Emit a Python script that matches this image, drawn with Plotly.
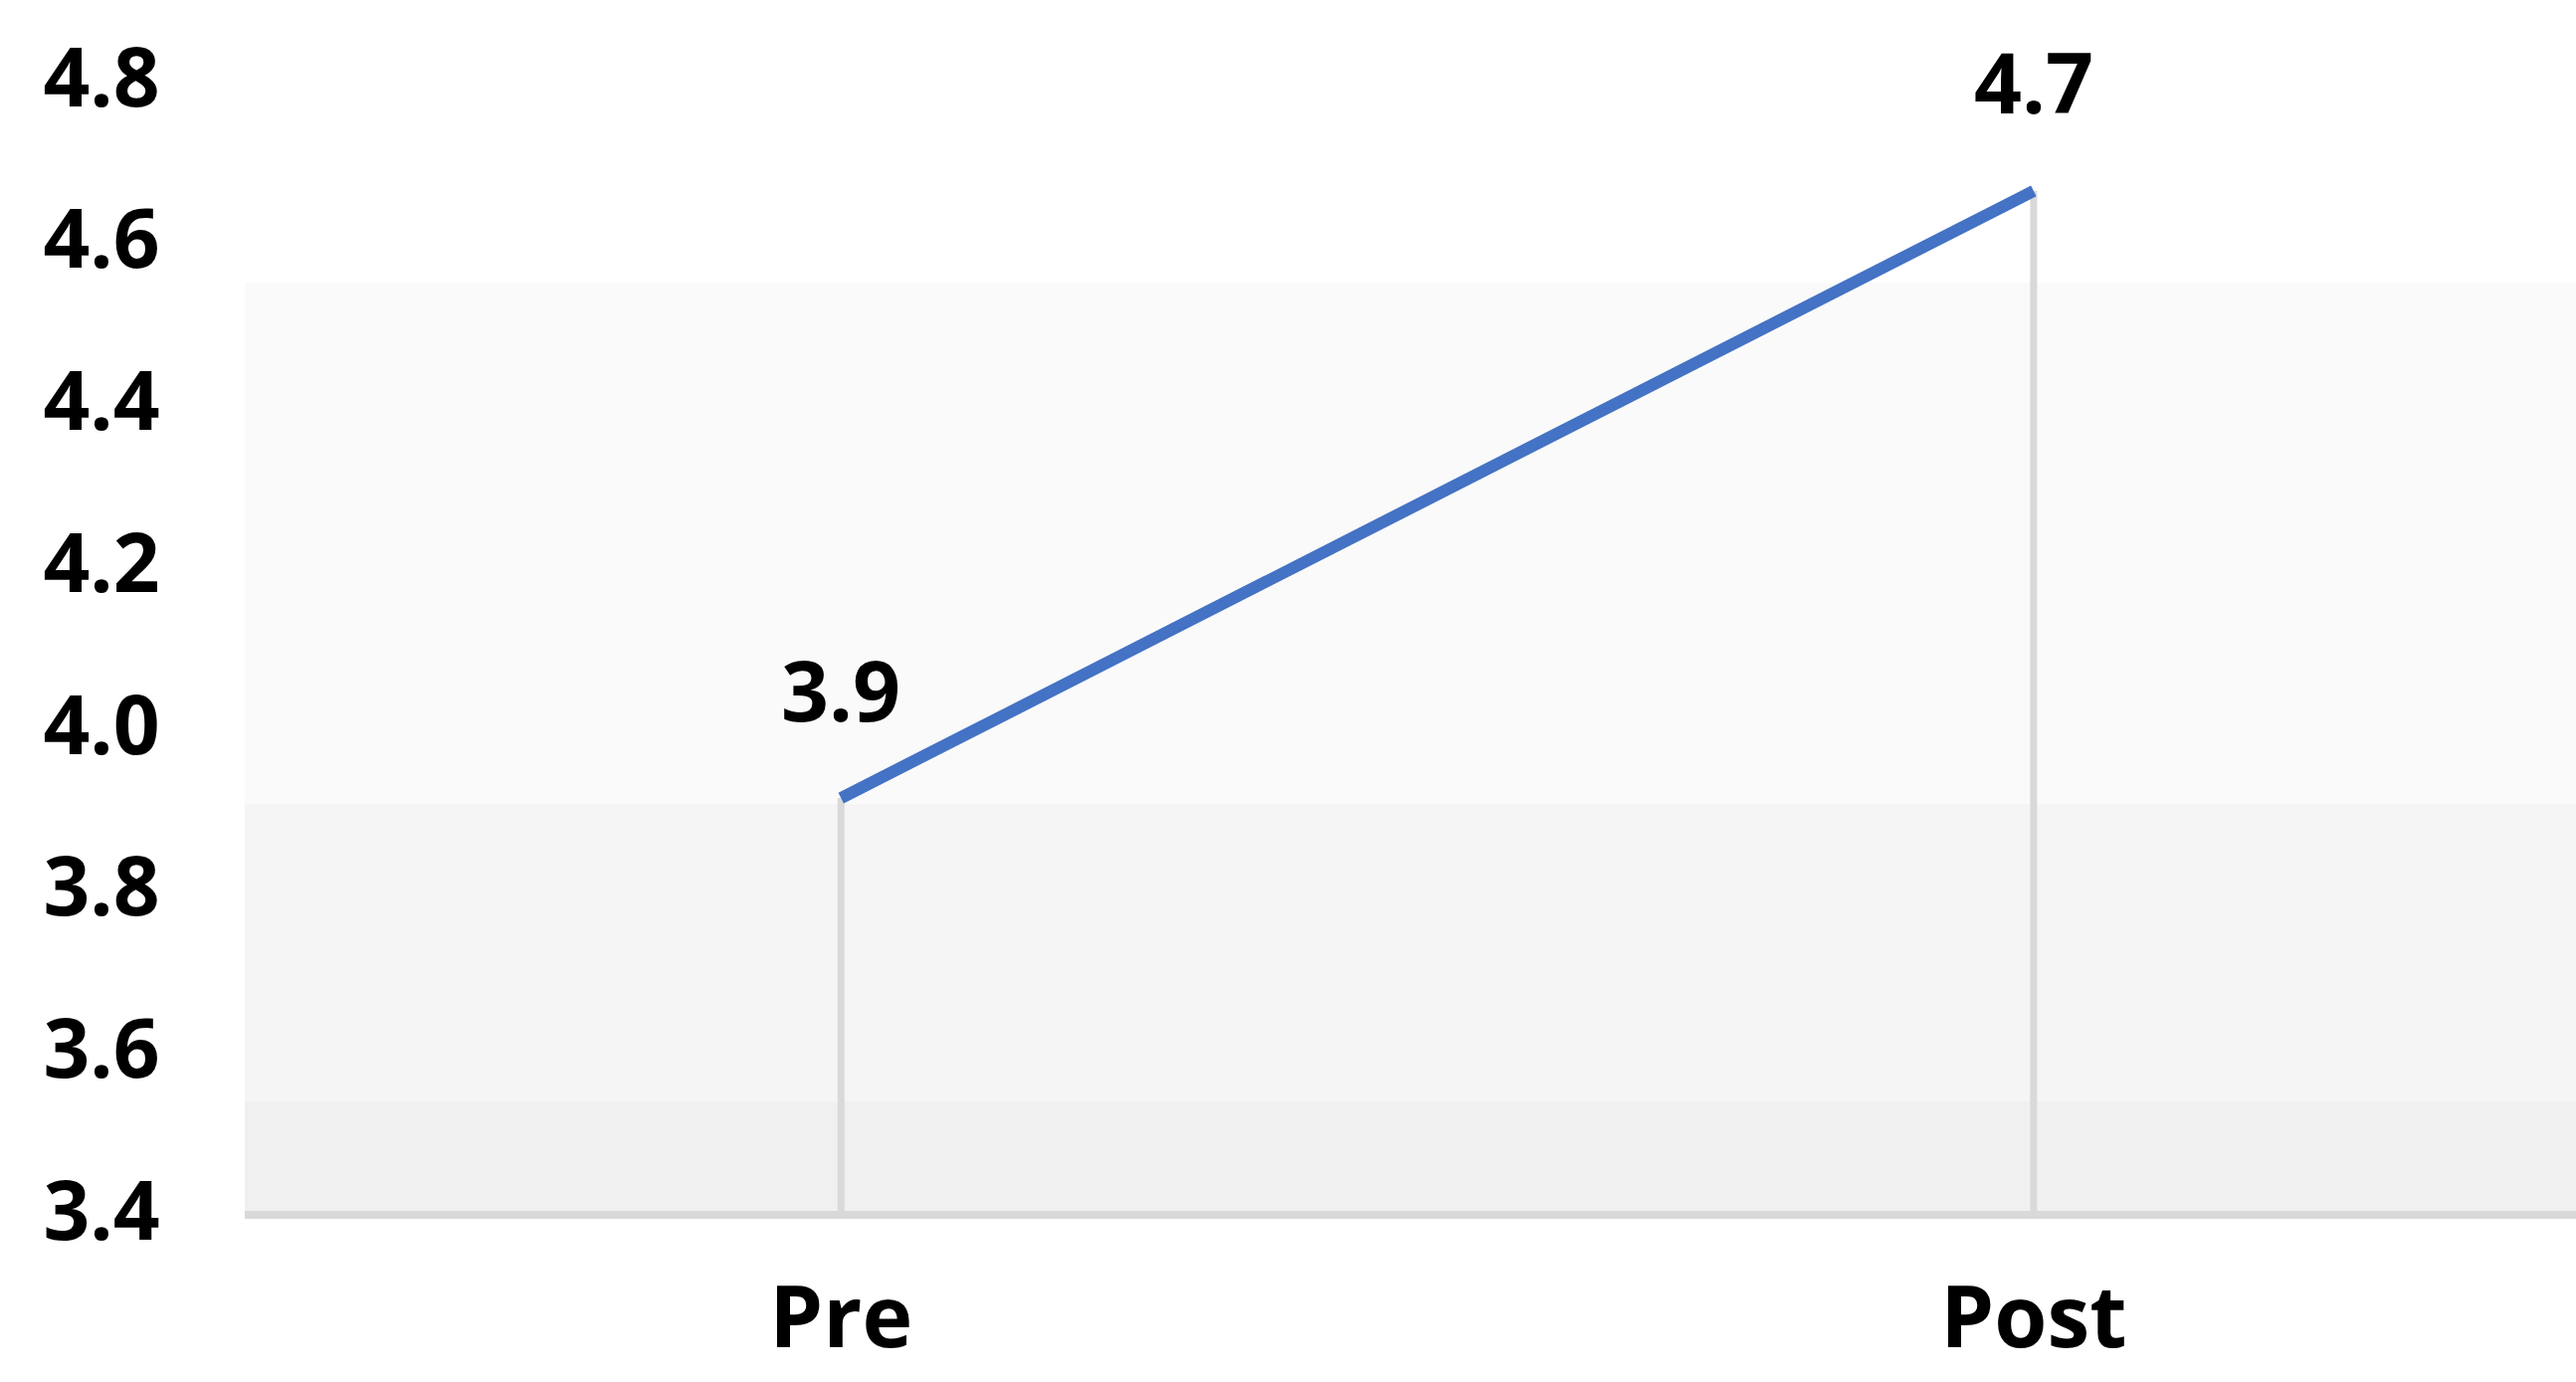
import plotly.graph_objects as go

# ---- data ----
categories = ["Pre", "Post"]
values = [3.91, 4.66]
value_labels = [f"{v:.1f}" for v in values]

y_ticks = [3.4, 3.6, 3.8, 4.0, 4.2, 4.4, 4.6, 4.8]
y_tick_labels = [f"{t:.1f}" for t in y_ticks]

# background band edges (value units) and their fills
band_edges = [3.4, 3.536, 3.903, 4.547]
band_colors = ["#F0F0F0", "#F5F5F5", "#FAFAFA"]

W, H = 2589, 1389
FONT = "Open Sans"

fig = go.Figure()

# drop lines from each point to the axis baseline
drop_x, drop_y = [], []
for c, v in zip(categories, values):
    drop_x += [c, c, None]
    drop_y += [y_ticks[0], v, None]
fig.add_trace(go.Scatter(
    x=drop_x, y=drop_y, mode="lines",
    line=dict(color="#D9D9D9", width=7),
    hoverinfo="skip", showlegend=False,
))

# main line
fig.add_trace(go.Scatter(
    x=categories, y=values, mode="lines",
    line=dict(color="#4472C4", width=12),
    showlegend=False,
))

# value labels
for c, v, lab in zip(categories, values, value_labels):
    fig.add_annotation(
        x=c, y=v, text=lab, showarrow=False,
        xanchor="center", yanchor="middle", yshift=110,
        font=dict(family=FONT, size=84, color="#000000", weight="bold"),
    )

# background bands
for y0, y1, col in zip(band_edges[:-1], band_edges[1:], band_colors):
    fig.add_shape(
        type="rect", xref="paper", yref="y",
        x0=0, x1=1, y0=y0, y1=y1,
        fillcolor=col, line=dict(width=0), layer="below",
    )

fig.update_layout(
    width=W, height=H, autosize=False,
    margin=dict(l=246, r=0, t=78, b=172, pad=0, autoexpand=False),
    paper_bgcolor="white", plot_bgcolor="white",
    showlegend=False,
)

fig.update_xaxes(
    type="category",
    categoryorder="array", categoryarray=categories,
    range=[-0.5, 1.4548],
    automargin=False,
    showgrid=False, zeroline=False,
    showline=True, linecolor="#D9D9D9", linewidth=8,
    ticks="outside", ticklen=26, tickcolor="rgba(0,0,0,0)",
    tickfont=dict(family=FONT, size=86, color="#000000", weight="bold"),
)

fig.update_yaxes(
    range=[3.4, 4.8],
    tickvals=y_ticks, ticktext=y_tick_labels,
    automargin=False,
    showgrid=False, zeroline=False, showline=False,
    ticks="outside", ticklen=68, tickcolor="rgba(0,0,0,0)",
    tickfont=dict(family=FONT, size=82, color="#000000", weight="bold"),
)

fig.write_html(
    "out.html",
    config={"displayModeBar": False},
    post_script="document.body.style.margin='0';document.body.style.overflow='hidden';",
)
